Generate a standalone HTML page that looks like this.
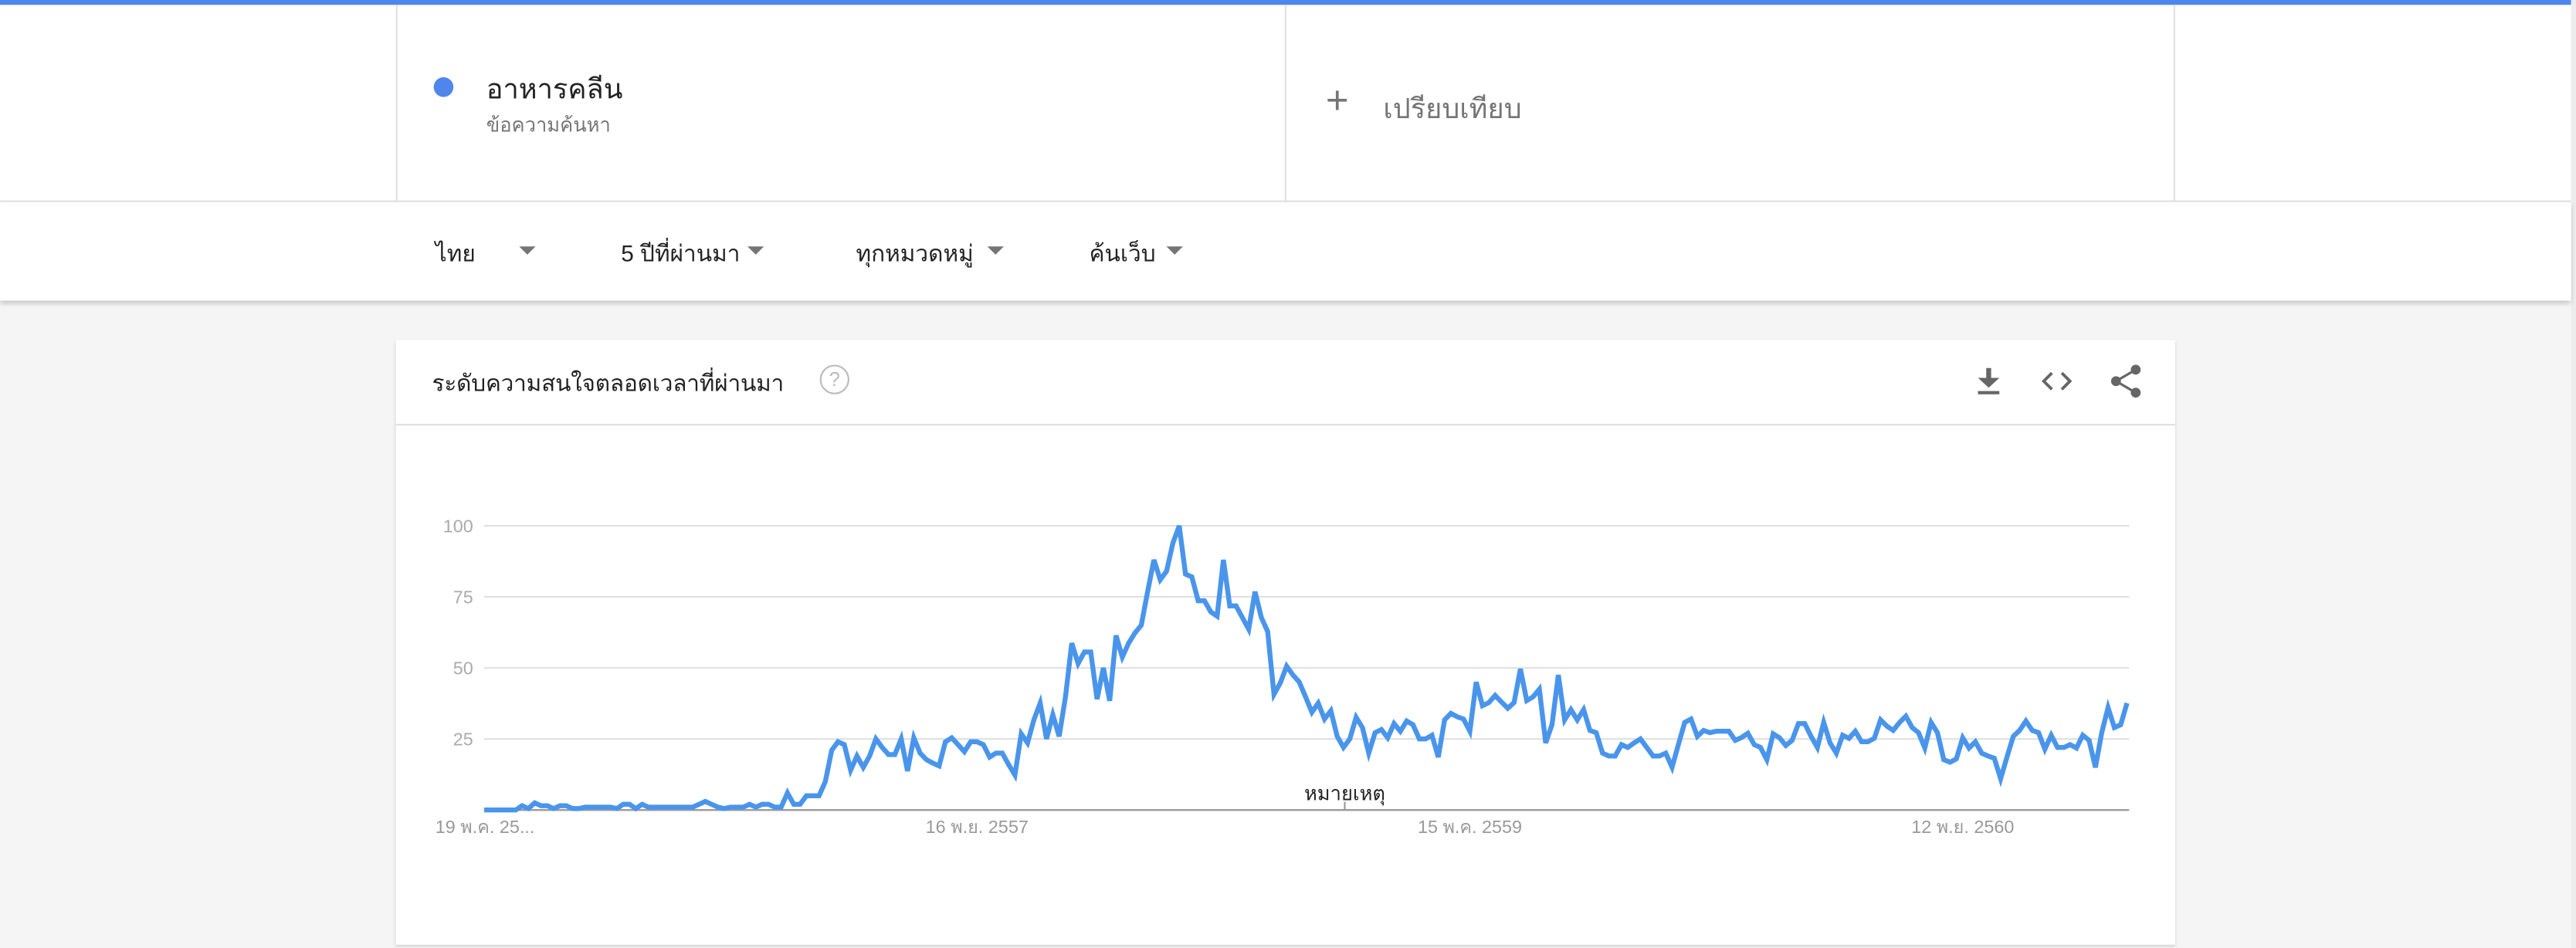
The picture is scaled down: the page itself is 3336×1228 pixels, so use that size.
<!DOCTYPE html>
<html><head><meta charset="utf-8">
<style>
html,body{margin:0;padding:0;width:3336px;height:1228px;overflow:hidden;background:#f5f5f5;}
#wrap{position:absolute;left:0;top:0;width:1568px;height:577px;transform-origin:0 0;transform:scale(2.12755,2.12825);font-family:"Liberation Sans","DejaVu Sans","Noto Sans CJK SC",sans-serif;}
.abs{position:absolute;}
</style></head><body>
<div id="wrap">
  <div class="abs" style="left:1565px;top:0;width:3px;height:577px;background:#ececec"></div>
  <div class="abs" style="left:0;top:0;width:1565px;height:3px;background:#4f86ec"></div>
  <div class="abs" style="left:0;top:3px;width:1565px;height:119px;background:#fff;border-bottom:1px solid #e0e0e0">
    <div class="abs" style="left:241px;top:0;width:1px;height:119px;background:#e0e0e0"></div>
    <div class="abs" style="left:782px;top:0;width:1px;height:119px;background:#e0e0e0"></div>
    <div class="abs" style="left:1323px;top:0;width:1px;height:119px;background:#e0e0e0"></div>
    <div class="abs" style="left:264px;top:44px;width:12px;height:12px;border-radius:50%;background:#4f86ec"></div>
    <div class="abs" style="left:296px;top:38px;font-size:17px;color:#222">อาหารคลีน</div>
    <div class="abs" style="left:296px;top:64px;font-size:12px;color:#757575">ข้อความค้นหา</div>
    <div class="abs" style="left:807px;top:45px;font-size:24px;color:#757575;font-weight:300">+</div>
    <div class="abs" style="left:842px;top:50px;font-size:17px;color:#757575">เปรียบเทียบ</div>
  </div>
  <div class="abs" style="left:0;top:123px;width:1565px;height:60px;background:#fff;box-shadow:0 2px 3px rgba(0,0,0,0.2)">
    <div class="abs" style="left:265px;top:21px;font-size:14px;color:#222">ไทย</div>
    <div class="abs" style="left:316px;top:27px;width:0;height:0;border-left:5px solid transparent;border-right:5px solid transparent;border-top:5px solid #757575"></div>
    <div class="abs" style="left:378px;top:21px;font-size:14px;color:#222">5 ปีที่ผ่านมา</div>
    <div class="abs" style="left:455px;top:27px;width:0;height:0;border-left:5px solid transparent;border-right:5px solid transparent;border-top:5px solid #757575"></div>
    <div class="abs" style="left:521px;top:21px;font-size:14px;color:#222">ทุกหมวดหมู่</div>
    <div class="abs" style="left:601px;top:27px;width:0;height:0;border-left:5px solid transparent;border-right:5px solid transparent;border-top:5px solid #757575"></div>
    <div class="abs" style="left:663px;top:21px;font-size:14px;color:#222">ค้นเว็บ</div>
    <div class="abs" style="left:710px;top:27px;width:0;height:0;border-left:5px solid transparent;border-right:5px solid transparent;border-top:5px solid #757575"></div>
  </div>
  <div class="abs" style="left:241px;top:207px;width:1083px;height:368px;background:#fff;box-shadow:0 1px 2px rgba(0,0,0,0.15)">
    <div class="abs" style="left:22px;top:16px;font-size:14px;color:#222;letter-spacing:-0.1px">ระดับความสนใจตลอดเวลาที่ผ่านมา</div>
    <div class="abs" style="left:258px;top:15px;width:16px;height:16px;border:1.5px solid #bbb;border-radius:50%;color:#bbb;font-size:12px;text-align:center;line-height:16px">?</div>
    <svg class="abs" style="left:960px;top:15px" width="110" height="20">
      <g><rect x="8" y="2" width="3" height="7" fill="#666"/><polygon points="3,8 16,8 9.5,14" fill="#666"/><rect x="3" y="16" width="13" height="2" fill="#666"/></g>
      <g fill="none" stroke="#666" stroke-width="1.8"><polyline points="48,5 43,10 48,15"/><polyline points="54,5 59,10 54,15"/></g>
      <g fill="#666"><circle cx="99" cy="3" r="3"/><circle cx="87" cy="10" r="3"/><circle cx="99" cy="17" r="3"/><line x1="99" y1="3" x2="87" y2="10" stroke="#666" stroke-width="1.5"/><line x1="87" y1="10" x2="99" y2="17" stroke="#666" stroke-width="1.5"/></g>
    </svg>
    <div class="abs" style="left:0;top:51px;width:1083px;height:1px;background:#e0e0e0"></div>
  </div>
  <svg id="chart" class="abs" style="left:0;top:0" width="1568" height="577"></svg>
</div>
<script>
const values=[0,0,0,0,0,0,1.5,0.5,2.5,1.5,1.5,0.5,1.5,1.5,0.5,0.5,1,1,1,1,1,0.5,2,2,0.5,2,1,1,1,1,1,1,1,1,2,3,2,1,0.5,1,1,1,2,1,2,2,1,1,6,2,2,5,5,5,10,21,24,23,14,19,15,19,25,22,19.5,
19.5,25,13.7,25.4,20,17.7,16.5,15.5,24,25.4,23,20.5,24,24,23,18.6,20,20,16,12.3,26.8,23.6,31.7,37.6,25,33.5,25.9,39.8,58.7,51.5,55.6,55.6,39,50,38.4,61.4,53.8,58.7,62.3,65,76.8,88,81,84,93.9,100,83,82,73.6,73.6,69.7,68.2,88,71.8,71.8,67.7,63.6,76.8,67.7,62.8,40.7,44.7,50.6,47.5,45,39.8,
34.4,37.6,32,34.9,25.9,22,25,32.6,29,20,27.2,28.3,25.4,30.4,27.7,31.3,30,25,25,26.3,18.6,31.7,34,32.8,32,27.7,45,36.7,37.8,40.3,38,35.8,37.8,49.6,38.5,39.8,42.5,23.6,30,47.5,31.7,35.3,31.7,35.3,28,27.2,20,19,19,23,22,23.6,25,22,19,19,20,15,23,30.8,32,25.9,28,27.2,
27.7,27.7,27.7,24.5,25.5,27,23,22,17.7,26.8,25.4,22.7,24.5,30.4,30.4,25.9,22,30.8,23.6,20,26.3,25.2,27.7,24,24,25.2,31.7,29.5,28,30.8,33,29,27.2,21.8,30.8,27.2,17.7,16.8,18,25.4,21.8,24,20,19,18.2,11,18.6,25.9,28,31.3,28,27.2,21.4,26.3,22,22,23,21.8,26.3,24.5,15,27.2,36,29,30,37.6];
const yTicks=[25,50,75,100];
const xTickWeeks=[0,78,156,234];
const xTickLabels=["19 พ.ค. 25...","16 พ.ย. 2557","15 พ.ค. 2559","12 พ.ย. 2560"];
const noteWeek=136.2;
const noteLabel="หมายเหตุ";

const NS="http://www.w3.org/2000/svg";
const svg=document.getElementById('chart');
const X0=294.7,X1=1294.7,Y0=493,Y100=320;
const n=values.length;
function xs(i){return X0+(X1-X0)*i/(n-1);}
function ys(v){return Y0-(Y0-Y100)*v/100;}
function mk(tag,attrs){const e=document.createElementNS(NS,tag);for(const k in attrs)e.setAttribute(k,attrs[k]);svg.appendChild(e);return e;}
yTicks.forEach(t=>{
  const g=mk('line',{x1:X0,x2:1296,y1:ys(t),y2:ys(t),stroke:'#e0e0e0','stroke-width':1});
  
  
  const l=mk('text',{x:288,y:ys(t)+4,'text-anchor':'end','font-size':11,fill:'#aaa','font-family':'Liberation Sans, sans-serif'});
  l.textContent=t;
  
  
});
const base=mk('line',{x1:X0,x2:1296,y1:Y0,y2:Y0,stroke:'#9e9e9e','stroke-width':1.2});


xTickWeeks.forEach((w,k)=>{
  const t=mk('text',{x:k===0?265:xs(w),y:507,'text-anchor':k===0?'start':'middle','font-size':11,fill:'#999','font-family':'Liberation Sans, DejaVu Sans, sans-serif'});
  t.textContent=xTickLabels[k];
  
  
});
const nt=mk('line',{x1:xs(noteWeek),x2:xs(noteWeek),y1:488,y2:493,stroke:'#999','stroke-width':1});


const nl=mk('text',{x:xs(noteWeek),y:487,'text-anchor':'middle','font-size':12,fill:'#222','font-family':'Liberation Sans, DejaVu Sans, sans-serif'});
nl.textContent=noteLabel;


let d='';
values.forEach((v,i)=>{d+=(i?'L':'M')+xs(i).toFixed(2)+' '+ys(v).toFixed(2)+' ';});
const p=mk('path',{d:d,fill:'none',stroke:'#4a95ec','stroke-width':3,'stroke-linejoin':'miter'});


</script>
</body></html>
